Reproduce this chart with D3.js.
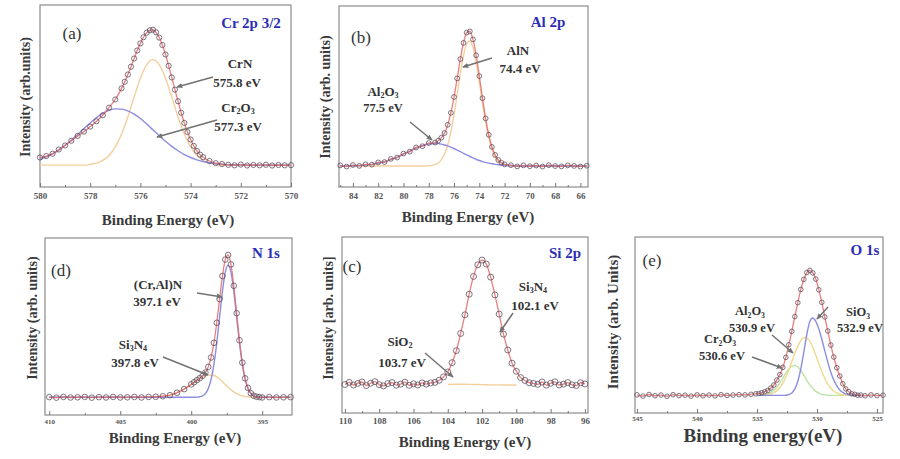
<!DOCTYPE html>
<html><head><meta charset="utf-8">
<script src="https://cdn.jsdelivr.net/npm/d3@7"></script>
<style>
body{margin:0;background:#fff}
svg{display:block}
</style>
</head><body>
<svg id="chart" width="900" height="459"></svg>
<script>
// ---------------- Panel (a) Cr 2p 3/2 ----------------
const aDataBE = [580,579.75,579.5,579.25,579,578.75,578.5,578.25,578,577.75,577.5,577.25,577,576.75,
  576.625,576.5,576.375,576.25,576.125,576,575.875,575.75,575.625,575.5,575.375,575.25,575.125,575,574.875,574.75,574.625,574.5,574.375,574.25,574.125,574,573.875,573.75,573.625,573.5,
  573.25,573,572.75,572.5,572.25,572,571.75,571.5,571.25,571,570.75,570.5,570.25,570];
const aData = [16.2,17.0,18.3,20.6,22.8,25.4,28.1,30.4,33.2,36.1,39.4,43.6,48.1,54.2,
  57.8,61.8,66.1,70.6,75.0,78.9,82.3,84.8,86.1,86.4,85.0,82.1,78.0,72.8,66.6,60.2,53.5,47.1,40.8,35.2,30.2,26.1,22.6,19.8,17.8,16.4,
  14.3,13.1,12.6,12.2,11.9,12.3,11.8,12.1,11.9,12.2,11.8,12.1,11.9,12.0];
const aCompBE = [580,579.75,579.5,579.25,579,578.75,578.5,578.25,578,577.75,577.5,577.25,577,576.75,576.5,576.25,576,575.75,575.5,575.25,575,574.75,574.5,574.25,574,573.75,573.5,573.25,573,572.75,572.5,572.25,572,571.75,571.5,571.25,571,570.75,570.5,570.25,570];
const aCr2O3 = [15.1,16.5,18.2,20.3,22.9,25.7,28.9,32.1,35.2,38.1,40.5,42.1,42.9,42.8,41.8,40.0,37.6,34.6,31.4,28.2,25.1,22.3,19.9,17.8,16.2,14.9,14.0,13.3,12.8,12.5,12.3,12.2,12.1,12,12,12,12,12,12,12,12];
const aCrN = [12,12,12,12,12,12,12,12,12.4,13.1,14.6,17.3,22.0,29.1,38.5,49.4,59.7,67.2,70,67.2,59.7,49.4,38.5,29.1,22.0,17.3,14.6,13.1,12.4,12,12,12,12,12,12,12,12,12,12,12,12];
const aTicks = [580,578,576,574,572,570];
const aMinor = [579,577,575,573,571];

// ---------------- Panel (b) Al 2p ----------------
const bBE = [85,84.5,84,83.5,83,82.5,82,81.5,81,80.5,80,79.5,79,78.5,78,77.5,
  77.25,77,76.75,76.5,76.25,76,75.75,75.5,75.25,75,74.75,74.5,74.25,74,73.75,73.5,73.25,73,72.75,72.5,72.25,72,
  71.5,71,70.5,70,69.5,69,68.5,68,67.5,67,66.5,66,65.5];
const bData = [8.4,7.7,8.6,8.1,9.0,8.8,10.1,10.3,12.1,12.9,15.2,16.3,18.7,19.4,21.2,21.5,
  22.6,24.3,27.0,31.7,38.6,47.7,58.4,69.5,78.8,84.7,85.4,80.8,71.7,59.7,47.0,35.4,26.0,19.0,14.4,11.5,9.9,9.0,
  8.5,7.8,8.4,7.9,8.3,7.7,8.5,8.0,7.8,8.4,8.1,7.7,8.2];
const bAlN = [8,8,8,8,8,8,8,8,8,8,8,8,8,8,8.1,8.8,
  9.8,11.7,14.9,20.1,27.7,37.6,49.2,61.2,71.5,78.3,79.9,76.1,67.8,56.5,44.4,33.3,24.3,17.7,13.4,10.7,9.3,8.6,
  8,8,8,8,8,8,8,8,8,8,8,8,8];
const bAl2O3 = [8.0,8.1,8.2,8.3,8.6,9.0,9.6,10.5,11.7,13.1,14.8,16.6,18.3,19.7,20.7,21.0,
  20.9,20.6,20.1,19.6,18.9,18.1,17.2,16.3,15.3,14.4,13.5,12.7,11.9,11.2,10.6,10.1,9.7,9.3,9.0,8.8,8.6,8.4,
  8.2,8.1,8,8,8,8,8,8,8,8,8,8,8];
const bTicks = [84,82,80,78,76,74,72,70,68,66];
const bMinor = [85,83,81,79,77,75,73,71,69,67];

// ---------------- Panel (d) N 1s ----------------
const dBE = [410,409.5,409,408.5,408,407.5,407,406.5,406,405.5,405,404.5,404,403.5,403,402.5,402,401.5,401,400.5,400,
  399.8,399.6,399.4,399.2,399.0,398.8,398.6,398.4,398.2,398.0,397.8,397.6,397.4,397.2,397.0,396.8,396.6,396.4,396.2,396.0,395.8,395.6,395.4,395.2,
  395,394.5,394,393.5,393];
const dData = [10.1,9.8,10.2,9.9,10.0,10.2,9.8,10.1,9.9,10.2,9.9,10.0,10.2,9.9,10.2,10.3,10.6,11.2,12.6,14.6,17.3,
  18.5,19.7,20.8,22.1,24.0,27.2,32.5,40.8,52.1,65.5,78.5,87.8,90.4,85.1,73.0,57.5,42.2,29.6,20.7,15.3,12.3,10.9,10.3,10.1,
  9.9,10.1,9.9,10.0,10.1];
const dCrAlN = [10,10,10,10,10,10,10,10,10,10,10,10,10,10,10,10,10,10,10,10,10,
  10.0,10.1,10.3,10.8,12.1,14.9,20.1,28.6,40.7,55.3,69.8,80.7,84.7,80.7,69.8,55.3,40.7,28.6,20.1,14.9,12.1,10.8,10.3,10.1,
  10,10,10,10,10];
const dSi3N4 = [10,10,10,10,10,10,10,10,10,10,10,10,10,10,10.1,10.2,10.5,11.2,12.6,14.7,17.4,
  18.5,19.6,20.6,21.4,22.1,22.5,22.6,22.3,21.5,20.3,18.8,17.2,15.7,14.3,13.1,12.1,11.4,10.9,10.5,10.3,10.1,10.1,10,10,
  10,10,10,10,10];
const dTicks = [410,405,400,395];
const dMinor = [407.5,402.5,397.5];

// ---------------- Panel (c) Si 2p ----------------
const cBE = [110,109.75,109.5,109.25,109,108.75,108.5,108.25,108,107.75,107.5,107.25,107,106.75,106.5,106.25,106,105.75,105.5,105.25,105,
  104.75,104.5,104.25,104,103.75,103.5,103.25,103,102.75,102.5,102.25,102,101.75,101.5,101.25,101,100.75,100.5,100.25,100,
  99.75,99.5,99.25,99,98.75,98.5,98.25,98,97.75,97.5,97.25,97,96.75,96.5,96.25,96];
const cData = [16.2,17.4,15.9,16.8,17.6,15.6,16.9,17.8,16.1,15.4,16.7,17.3,15.8,16.4,17.5,15.7,16.6,15.9,17.1,16.4,17.1,
  17.4,18.6,20.5,23.3,28.6,35.4,45.2,55.8,67.5,77.6,84.2,86.9,84.6,77.2,67.1,56.2,44.8,35.8,28.3,23.7,
  20.1,18.5,17.2,16.8,16.3,17.6,15.8,16.9,17.7,15.9,16.4,17.3,16.0,15.6,17.2,16.5];
const cSiO2BE = [104,103.5,103,102.5,102,101.5,101,100.5,100];
const cSiO2 = [16.2,16.3,16.3,16.2,16.1,16.0,16.0,15.9,15.9];
const cTicks = [110,108,106,104,102,100,98,96];
const cMinor = [109,107,105,103,101,99,97];

// ---------------- Panel (e) O 1s ----------------
const eBE = [545,544.5,544,543.5,543,542.5,542,541.5,541,540.5,540,539.5,539,538.5,538,537.5,537,536.5,536,535.5,535.1,
  534.85,534.6,534.35,534.1,533.85,533.6,533.35,533.1,532.85,532.6,532.35,532.1,531.85,531.6,531.35,531.1,530.85,530.6,530.35,530.1,
  529.85,529.6,529.35,529.1,528.85,528.6,528.35,528.1,527.85,527.6,527.35,527.1,526.85,526.6,526.35,
  526,525.5,525,524.5];
const eData = [10.3,9.6,10.5,9.8,10.2,9.5,10.4,9.9,10.1,9.6,10.3,9.8,10.2,9.7,10.4,10.0,10.2,10.4,10.3,10.6,10.9,
  11.1,11.5,12.1,12.8,14.2,15.9,18.7,21.8,25.9,31.6,38.8,46.4,54.8,62.7,70.2,75.9,79.8,81.0,79.6,76.1,
  70.0,62.9,54.6,46.6,38.6,31.8,25.7,21.0,16.6,13.7,12.1,10.9,10.6,10.1,10.2,
  9.8,10.3,9.9,10.1];
const eCompBE = [534.85,534.6,534.35,534.1,533.85,533.6,533.35,533.1,532.85,532.6,532.35,532.1,531.85,531.6,531.35,531.1,530.85,530.6,530.35,530.1,
  529.85,529.6,529.35,529.1,528.85,528.6,528.35,528.1,527.85,527.6,527.35,527.1,526.85,526.6,526.35];
const eSiO3 = [10,10,10,10,10,10,10,10,10,10.1,10.5,11.4,13.7,18.0,25.1,34.6,44.6,52.0,54.0,52.1,
  47.8,41.9,35.3,28.9,23.2,18.7,15.4,13.1,11.7,10.9,10.4,10.2,10.1,10,10];
const eAl2O3 = [10.0,10.1,10.2,10.4,10.8,11.5,12.7,14.5,17.0,20.3,24.5,29.1,33.8,38.0,41.2,42.8,42.7,40.7,37.3,32.9,
  28.1,23.6,19.6,16.4,14.1,12.4,11.4,10.7,10.4,10.2,10.1,10,10,10,10];
const eCr2O3 = [10.1,10.2,10.4,10.9,11.6,12.9,14.6,17.0,19.7,22.6,25.0,26.6,27.0,26.1,24.1,21.5,18.6,16.0,13.9,12.3,
  11.3,10.6,10.3,10.1,10.0,10,10,10,10,10,10,10,10,10,10];
const eTicks = [545,540,535,530,525];
const eMinor = [542.5,537.5,532.5,527.5];

// ---------------- styles ----------------
const FONT = "'Liberation Serif', 'Times New Roman', Tinos, 'DejaVu Serif', serif";
const C = {
  circle:"#5a4a58", fit:"#e46a6a", orange:"#f3cf9c", blue:"#8c8ce0", green:"#bfe2a6",
  yellow:"#efd98f", frame:"#8c8c8c", tick:"#777", tickText:"#555", title:"#2d2db5",
  label:"#333", arrow:"#727272"
};

const svg = d3.select("#chart");
const defs = svg.append("defs");
defs.append("marker").attr("id","ah").attr("viewBox","0 -4 8 8")
  .attr("refX",7).attr("refY",0).attr("markerWidth",6).attr("markerHeight",6)
  .attr("markerUnits","userSpaceOnUse").attr("orient","auto")
  .append("path").attr("d","M0,-3.5L8,0L0,3.5Z").attr("fill",C.arrow);

function rich(textSel, str, size){
  const parts=[]; let buf="";
  for(let i=0;i<str.length;i++){
    if(str[i]==="_"){ if(buf) parts.push([buf,false]); buf=""; parts.push([str[i+1],true]); i++; }
    else buf+=str[i];
  }
  if(buf) parts.push([buf,false]);
  let shifted=false;
  parts.forEach(([t,sub])=>{
    const ts=textSel.append("tspan").text(t);
    if(sub){ ts.attr("font-size",size*0.62); if(!shifted){ts.attr("dy",size*0.2); shifted=true;} }
    else { if(shifted){ts.attr("dy",-size*0.2); shifted=false;} }
  });
}

function zip(xs, ys){ const n=Math.min(xs.length, ys.length); const out=[]; for(let i=0;i<n;i++) out.push([xs[i],ys[i]]); return out; }

function drawPanel(p){
  const g = svg.append("g").attr("font-family",FONT);
  const x = d3.scaleLinear().domain(p.xDomain).range([p.box.l, p.box.r]);
  const y = d3.scaleLinear().domain(p.yDomain).range([p.box.b, p.box.t]);
  const line = d3.line().x(d=>x(d[0])).y(d=>y(d[1])).curve(d3.curveMonotoneX);

  g.append("rect").attr("x",p.box.l).attr("y",p.box.t)
    .attr("width",p.box.r-p.box.l).attr("height",p.box.b-p.box.t)
    .attr("fill","#fff").attr("stroke",C.frame).attr("stroke-width",1.2);

  p.comps.forEach(c=>{
    g.append("path").datum(zip(c.x,c.y)).attr("d",line)
      .attr("fill","none").attr("stroke",c.color).attr("stroke-width",c.w||1.4);
  });
  const pts = zip(p.dx, p.dy);
  g.append("path").datum(pts).attr("d",line).attr("fill","none")
    .attr("stroke",C.fit).attr("stroke-width",1.3).attr("opacity",0.85);
  g.selectAll("circle.d").data(pts).enter().append("circle")
    .attr("cx",d=>x(d[0])).attr("cy",d=>y(d[1])).attr("r",p.r)
    .attr("fill","none").attr("stroke",C.circle).attr("stroke-width",0.9).attr("opacity",0.85);

  const ax = g.append("g").attr("transform",`translate(0,${p.box.b})`)
    .call(d3.axisBottom(x).tickValues(p.ticks).tickSize(-4).tickPadding(p.tickPad).tickFormat(d3.format("d")));
  ax.attr("font-family",FONT);
  ax.select(".domain").remove();
  ax.selectAll("line").attr("stroke",C.tick);
  ax.selectAll("text").attr("font-size",p.tickSize).attr("font-weight","bold")
    .attr("fill",C.tickText).attr("font-family",FONT);
  const mx = g.append("g").attr("transform",`translate(0,${p.box.b})`)
    .call(d3.axisBottom(x).tickValues(p.minor).tickSize(-2).tickFormat(""));
  mx.select(".domain").remove();
  mx.selectAll("line").attr("stroke",C.tick);

  g.append("text").attr("x",p.xl[0]).attr("y",p.xl[1]).attr("text-anchor","middle").attr("font-family",FONT)
    .attr("dy","0.35em").attr("font-size",p.xl[2]).attr("font-weight","bold").attr("fill","#3a3a3a").text(p.xlabel);
  g.append("text").attr("transform",`translate(${p.yl[0]},${p.yl[1]}) rotate(-90)`).attr("text-anchor","middle").attr("font-family",FONT)
    .attr("dy","0.35em").attr("font-size",p.yl[2]).attr("font-weight","bold").attr("fill","#3a3a3a").text(p.ylabel);

  p.arrows.forEach(a=>{
    g.append("line").attr("x1",p.box.l+a[0]).attr("y1",p.box.t+a[1])
      .attr("x2",p.box.l+a[2]).attr("y2",p.box.t+a[3])
      .attr("stroke",C.arrow).attr("stroke-width",1.5).attr("marker-end","url(#ah)");
  });
  p.labels.forEach(l=>{
    const size=l.size||13;
    const t=g.append("text").attr("x",p.box.l+l.x).attr("y",p.box.t+l.y).attr("dy","0.35em")
      .attr("text-anchor","middle").attr("font-size",size).attr("font-family",FONT)
      .attr("font-weight",l.weight||"bold").attr("fill",l.color||C.label);
    rich(t,l.t,size);
  });
}

const panels = [
  { box:{l:40,t:5,r:291,b:187}, xDomain:[580,570], yDomain:[0,100],
    ticks:aTicks, minor:aMinor, tickSize:9, tickPad:6, r:2.6,
    dx:aDataBE, dy:aData,
    comps:[{x:aCompBE,y:aCrN,color:C.orange},{x:aCompBE,y:aCr2O3,color:C.blue}],
    xlabel:"Binding Energy (eV)", xl:[168,220,15], ylabel:"Intensity (arb.units)", yl:[25,97,14],
    labels:[{t:"(a)",x:32,y:28,size:17,weight:"normal"},{t:"Cr 2p 3/2",x:211,y:18,size:15,color:C.title},
      {t:"CrN",x:200,y:58},{t:"575.8 eV",x:197,y:77},{t:"Cr_2O_3",x:198,y:102},{t:"577.3 eV",x:198,y:121}],
    arrows:[[173,72,137,82],[177,115,117,132]] },
  { box:{l:339,t:6,r:588,b:187}, xDomain:[85.1,65.4], yDomain:[-4.03,100],
    ticks:bTicks, minor:bMinor, tickSize:9, tickPad:6, r:2.4,
    dx:bBE, dy:bData,
    comps:[{x:bBE,y:bAlN,color:C.orange},{x:bBE,y:bAl2O3,color:C.blue}],
    xlabel:"Binding Energy (eV)", xl:[468,217,15], ylabel:"Intensity (arb. units)", yl:[325,97,14],
    labels:[{t:"(b)",x:22,y:31,size:17,weight:"normal"},{t:"Al 2p",x:209,y:16,size:15,color:C.title},
      {t:"AlN",x:179,y:44},{t:"74.4 eV",x:181,y:62},{t:"Al_2O_3",x:44,y:85},{t:"77.5 eV",x:44,y:102,size:12.5}],
    arrows:[[153,52,124,61],[71,116,93,134]] },
  { box:{l:45,t:238,r:292,b:415}, xDomain:[410.3,392.9], yDomain:[0,100],
    ticks:dTicks, minor:dMinor, tickSize:7, tickPad:4, r:2.8,
    dx:dBE, dy:dData,
    comps:[{x:dBE,y:dSi3N4,color:C.orange},{x:dBE,y:dCrAlN,color:C.blue}],
    xlabel:"Binding Energy (eV)", xl:[175,438,15], ylabel:"Intensity (arb. units)", yl:[32,318,14],
    labels:[{t:"(d)",x:16,y:32,size:17,weight:"normal"},{t:"N 1s",x:221,y:15,size:15,color:C.title},
      {t:"(Cr,Al)N",x:113,y:46},{t:"397.1 eV",x:112,y:63},{t:"Si_3N_4",x:88,y:106},{t:"397.8 eV",x:90,y:124}],
    arrows:[[152,55,177,59],[118,119,163,137]] },
  { box:{l:342,t:237,r:588,b:413}, xDomain:[110.17,95.82], yDomain:[0,100],
    ticks:cTicks, minor:cMinor, tickSize:9, tickPad:5, r:3.0,
    dx:cBE, dy:cData,
    comps:[{x:cSiO2BE,y:cSiO2,color:C.orange}],
    xlabel:"Binding Energy (eV)", xl:[465,442,15], ylabel:"Intensity [arb. units]", yl:[328,318,14],
    labels:[{t:"(c)",x:10,y:29,size:17,weight:"normal"},{t:"Si 2p",x:223,y:16,size:15,color:C.title},
      {t:"Si_3N_4",x:191,y:49},{t:"102.1 eV",x:193,y:68},{t:"SiO_2",x:58,y:104},{t:"103.7 eV",x:60,y:125}],
    arrows:[[171,76,158,95],[83,116,111,140]] },
  { box:{l:635,t:237,r:883,b:413}, xDomain:[545.17,524.5], yDomain:[0,100],
    ticks:eTicks, minor:eMinor, tickSize:7, tickPad:3, r:2.3,
    dx:eBE, dy:eData,
    comps:[{x:eCompBE,y:eCr2O3,color:C.green},{x:eCompBE,y:eAl2O3,color:C.yellow},{x:eCompBE,y:eSiO3,color:C.blue}],
    xlabel:"Binding energy(eV)", xl:[763,435,19], ylabel:"Intensity (arb. Units)", yl:[613,322,15],
    labels:[{t:"(e)",x:17,y:23,size:17,weight:"normal"},{t:"O 1s",x:230,y:13,size:15,color:C.title},
      {t:"Al_2O_3",x:115,y:74,size:12.5},{t:"530.9 eV",x:117,y:91,size:12.5},
      {t:"Cr_2O_3",x:85,y:102,size:12.5},{t:"530.6 eV",x:87,y:119,size:12.5},
      {t:"SiO_3",x:223,y:75,size:12.5},{t:"532.9 eV",x:225,y:91,size:12.5}],
    arrows:[[137,98,158,116],[117,120,147,131],[193,70,182,82]] }
];
panels.forEach(drawPanel);
</script>
</body></html>
